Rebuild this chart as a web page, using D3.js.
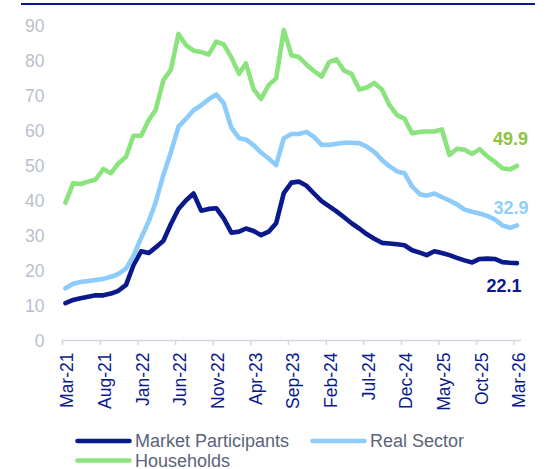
<!DOCTYPE html>
<html>
<head>
<meta charset="utf-8">
<script src="https://cdn.jsdelivr.net/npm/d3@7"></script>
<style>
    body { margin: 0; background: #fff; }
    svg { display: block; font-family: "Liberation Sans", Arial, sans-serif; }
</style>
</head>
<body>
<div id="graph"></div>
<script>
let width = 546;
let height = 469;

// monthly, Mar-21 .. Mar-26
let startMonth = new Date(2021, 2, 1);
let tickEvery = 5;
let yTicks = [0, 10, 20, 30, 40, 50, 60, 70, 80, 90];

let marketParticipants = [
    10.7, 11.6, 12.1, 12.5, 12.9, 12.9, 13.4, 14.2, 15.9, 21.5,
    25.5, 25.0, 26.6, 28.5, 33.2, 37.6, 40.0, 42.0, 37.1, 37.6,
    37.8, 34.9, 30.8, 31.1, 32.0, 31.3, 30.1, 31.1, 33.5, 42.1,
    45.1, 45.4, 44.2, 42.0, 39.8, 38.3, 36.9, 35.2, 33.5, 32.0,
    30.4, 29.1, 27.9, 27.7, 27.5, 27.2, 25.8, 25.1, 24.4, 25.5,
    25.0, 24.4, 23.6, 22.9, 22.3, 23.3, 23.4, 23.3, 22.4, 22.2,
    22.1
];
let realSector = [
    14.9, 16.2, 16.7, 17.0, 17.3, 17.6, 18.2, 19.0, 20.6, 24.2,
    29.3, 34.1, 39.5, 47.3, 53.7, 61.1, 63.3, 65.8, 67.2, 68.9,
    70.3, 67.8, 60.8, 57.8, 57.4, 55.8, 53.7, 52.0, 50.1, 57.8,
    59.0, 59.0, 59.6, 58.2, 55.9, 55.9, 56.2, 56.5, 56.5, 56.4,
    55.4, 53.9, 51.6, 49.8, 48.3, 47.8, 44.0, 41.8, 41.4, 42.0,
    41.0, 40.0, 38.9, 37.4, 36.8, 36.3, 35.6, 34.6, 32.9, 32.2,
    32.9
];
let households = [
    39.4, 44.9, 44.7, 45.4, 46.0, 49.0, 47.8, 50.6, 52.5, 58.5,
    58.5, 63.0, 65.9, 74.4, 77.3, 87.6, 84.4, 82.8, 82.4, 81.7,
    85.4, 84.6, 80.9, 76.2, 79.2, 71.8, 69.0, 73.0, 74.9, 88.7,
    81.5, 81.0, 78.8, 77.0, 75.4, 79.6, 80.3, 77.1, 76.2, 71.7,
    72.3, 73.6, 71.7, 67.3, 64.4, 63.4, 59.2, 59.6, 59.7, 59.7,
    60.3, 53.0, 54.8, 54.5, 53.3, 54.7, 52.6, 51.1, 49.2, 48.9,
    49.9
];

let seriesNames = ["Market Participants", "Real Sector", "Households"];
let seriesValues = [marketParticipants, realSector, households];
let lineColors = ["#0a1a8c", "#8ccbfa", "#8ae37c"];
let labelColors = ["#0a1a8c", "#8fd0fb", "#8cc43c"];

let months = marketParticipants.map((_, i) => new Date(2021, 2 + i, 15));
let tickDates = d3.range(0, 61, tickEvery).map(i => new Date(2021, 2 + i, 1));
let fmt = d3.timeFormat("%b-%y");

let x = d3.scaleTime()
    .domain([startMonth, new Date(2026, 2, 1)])
    .range([62, 513.5]);

let y = d3.scaleLinear()
    .domain([0, 90])
    .range([340.5, 25.5]);

let line = d3.line()
    .x((d, i) => x(months[i]))
    .y(d => y(d));

let svg = d3.select("#graph").append("svg")
    .attr("width", width)
    .attr("height", height);

// rule along the top
svg.append("line")
    .attr("x1", 21).attr("x2", 535)
    .attr("y1", 4).attr("y2", 4)
    .attr("stroke", "#0a1a8c")
    .attr("stroke-width", 1.8);

// y labels, no axis line
svg.append("g")
    .selectAll("text")
    .data(yTicks)
    .join("text")
    .attr("x", 44.5)
    .attr("y", d => y(d))
    .attr("dy", "0.36em")
    .attr("text-anchor", "end")
    .attr("font-size", 17.5)
    .attr("fill", "#b8c0cc")
    .text(d => d);

// x axis
let xAxis = svg.append("g")
    .attr("transform", `translate(0,${y(0)})`)
    .call(d3.axisBottom(x)
        .tickValues(tickDates)
        .tickSize(4.5)
        .tickSizeOuter(0)
        .tickFormat(fmt));

xAxis.select(".domain")
    .attr("d", `M62,0H521`)
    .attr("stroke", "#d0d6e0")
    .attr("stroke-width", 1.5);
xAxis.selectAll(".tick line")
    .attr("stroke", "#d0d6e0")
    .attr("stroke-width", 1.5);
xAxis.selectAll(".tick text")
    .attr("font-family", null)
    .attr("font-size", 17.5)
    .attr("fill", "#0a1a8c")
    .attr("text-anchor", "end")
    .attr("transform", "rotate(-90)")
    .attr("x", -12)
    .attr("y", 0)
    .attr("dy", "0.62em");

// lines
svg.append("g")
    .attr("fill", "none")
    .selectAll("path")
    .data(seriesValues)
    .join("path")
    .attr("stroke", (d, i) => lineColors[i])
    .attr("stroke-width", 4.6)
    .attr("stroke-linejoin", "round")
    .attr("stroke-linecap", "round")
    .attr("d", d => line(d));

// last-value labels
let lastLabel = [
    {dx: 521.5, dy: 22.5},
    {dx: 528.5, dy: -18},
    {dx: 528, dy: -27.5}
];
svg.append("g")
    .selectAll("text")
    .data(seriesValues)
    .join("text")
    .attr("x", (d, i) => lastLabel[i].dx)
    .attr("y", (d, i) => y(d[d.length - 1]) + lastLabel[i].dy)
    .attr("dy", "0.36em")
    .attr("text-anchor", "end")
    .attr("font-size", 18)
    .attr("font-weight", "bold")
    .attr("fill", (d, i) => labelColors[i])
    .text(d => d[d.length - 1].toFixed(1));

// legend
let legendPos = [
    {x: 76, y: 441},
    {x: 311, y: 441},
    {x: 76, y: 460.5}
];
let legend = svg.append("g")
    .selectAll("g")
    .data(seriesNames)
    .join("g")
    .attr("transform", (d, i) => `translate(${legendPos[i].x},${legendPos[i].y})`);

legend.append("line")
    .attr("x1", 1.5).attr("x2", 53.5)
    .attr("stroke", (d, i) => lineColors[i])
    .attr("stroke-width", 4.6)
    .attr("stroke-linecap", "round");

legend.append("text")
    .attr("x", 59)
    .attr("dy", "0.36em")
    .attr("font-size", 18)
    .attr("fill", "#5a647a")
    .text(d => d);
</script>
</body>
</html>
